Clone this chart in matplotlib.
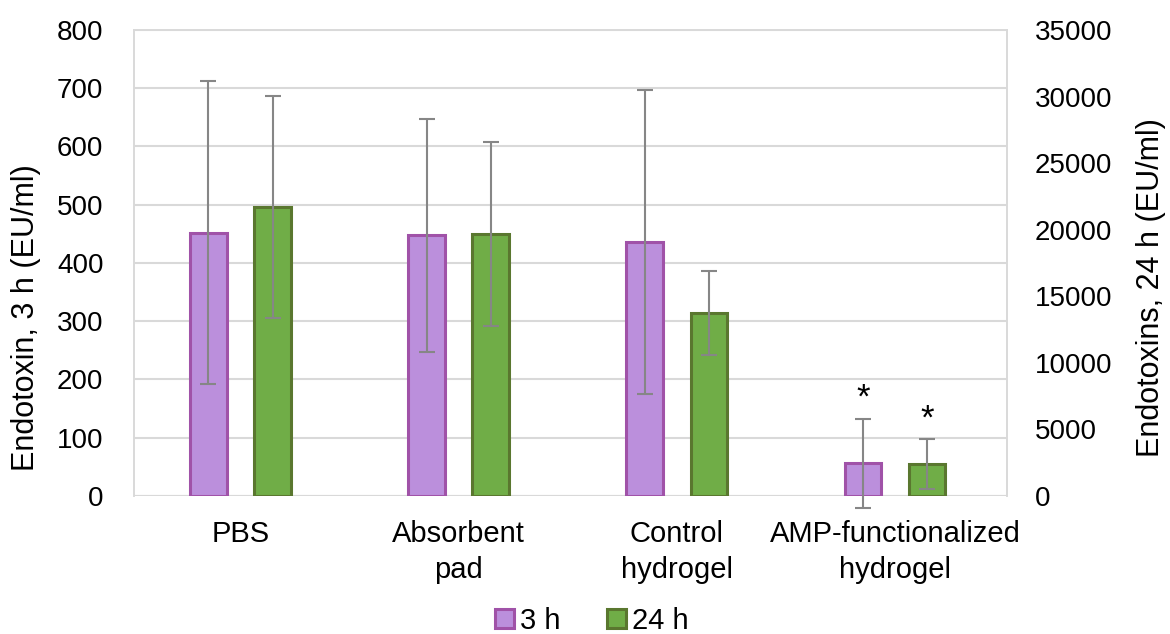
import matplotlib.pyplot as plt
import numpy as np

plt.rcParams['font.family'] = ['Liberation Sans', 'DejaVu Sans']

categories = ['PBS', 'Absorbent\npad', 'Control\nhydrogel', 'AMP-functionalized\nhydrogel']
mean_3h = [452, 448, 436, 56]
err_3h = [260, 200, 261, 77]
mean_24h = [21700, 19660, 13750, 2380]
err_24h = [8350, 6900, 3140, 1880]
significant = [False, False, False, True]

fig = plt.figure(figsize=(11.7, 6.34), dpi=100)
ax = fig.add_axes([0.1145, 0.2177, 0.746, 0.735])
ax2 = ax.twinx()

x = np.arange(len(categories))
off = 0.147
w = 0.168
purple_fill, purple_edge = '#BB8FDC', '#A052A8'
green_fill, green_edge = '#70AD47', '#5A772F'

ax.bar(x - off, mean_3h, w, color=purple_fill, edgecolor=purple_edge, linewidth=2.2,
       label='3 h', zorder=3)
ax.errorbar(x - off, mean_3h, yerr=err_3h, fmt='none', ecolor='#868686', elinewidth=1.5,
            capsize=6, capthick=1.5, zorder=4, clip_on=False)
ax2.bar(x + off, mean_24h, w, color=green_fill, edgecolor=green_edge, linewidth=2.2,
        label='24 h', zorder=3)
ax2.errorbar(x + off, mean_24h, yerr=err_24h, fmt='none', ecolor='#868686', elinewidth=1.5,
             capsize=6, capthick=1.5, zorder=4, clip_on=False)

for i, s in enumerate(significant):
    if s:
        ax.annotate('*', (x[i] - off, mean_3h[i] + err_3h[i]), xytext=(0, 20),
                    textcoords='offset pixels', ha='center', va='center', fontsize=25)
        ax2.annotate('*', (x[i] + off, mean_24h[i] + err_24h[i]), xytext=(0, 20),
                     textcoords='offset pixels', ha='center', va='center', fontsize=25)

ax.set_xlim(-0.488, 3.512)
ax.set_ylim(0, 800)
ax2.set_ylim(0, 35000)
ax.set_yticks(np.arange(0, 801, 100))
ax2.set_yticks(np.arange(0, 35001, 5000))
ax.set_xticks(x)
ax.set_xticklabels(categories, linespacing=1.4)

ax.yaxis.grid(True, color='#D9D9D9', linewidth=1.5, zorder=0)
ax.set_axisbelow(True)
for a in (ax, ax2):
    for sp in a.spines.values():
        sp.set_color('#D9D9D9')
        sp.set_linewidth(1.2)
ax.spines['bottom'].set_visible(False)
ax2.spines['bottom'].set_visible(False)

ax.tick_params(axis='y', length=0, pad=22, labelsize=20)
ax.tick_params(axis='x', length=0, pad=17, labelsize=21)
ax2.tick_params(axis='y', length=0, pad=20, labelsize=20)

ax.set_ylabel('Endotoxin, 3 h (EU/ml)', fontsize=22)
ax2.set_ylabel('Endotoxins, 24 h (EU/ml)', fontsize=22)
ax.yaxis.set_label_coords(-0.106, 0.382)
ax2.yaxis.set_label_coords(1.148, 0.448)

# baseline drawn as a gridline at zero
ax.axhline(0, color='#D9D9D9', linewidth=1.5, zorder=1)

h1, l1 = ax.get_legend_handles_labels()
h2, l2 = ax2.get_legend_handles_labels()
fig.legend(h1 + h2, l1 + l2, loc='center', bbox_to_anchor=(0.506, 0.021), ncol=2,
           frameon=False, fontsize=21, handlelength=0.65, handleheight=0.65,
           handletextpad=0.2, columnspacing=1.6)

fig.savefig('out.png', dpi=100)
